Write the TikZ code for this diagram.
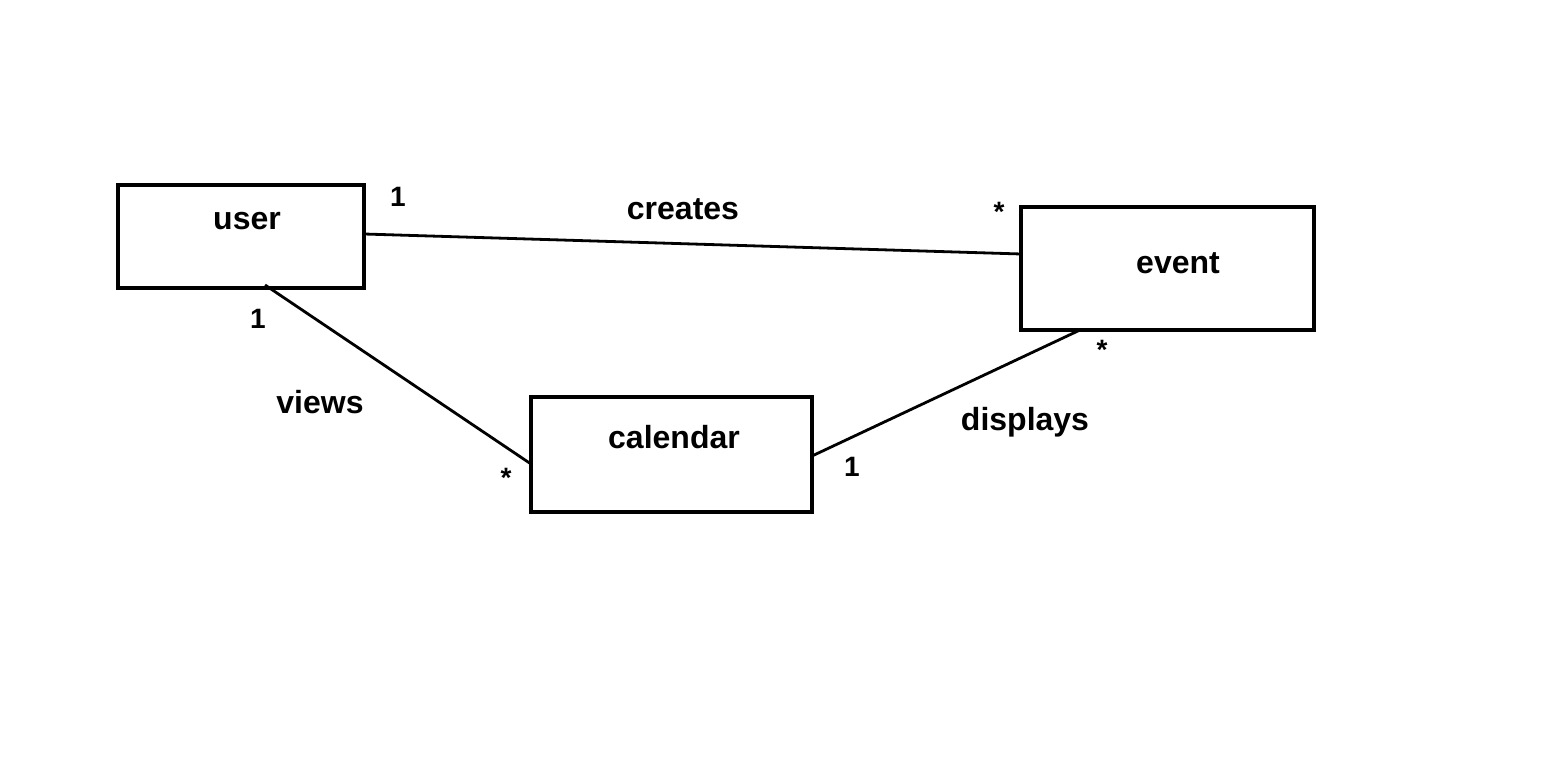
\documentclass[tikz,border=0pt]{standalone}
\usepackage{fontspec}
\setmainfont{Liberation Sans}
\begin{document}
\begin{tikzpicture}[x=0.5pt,y=-0.5pt,
  box/.style={draw,line width=1.7pt,inner sep=0pt},
  lbl/.style={font=\fontsize{16}{18}\selectfont\bfseries,inner sep=0pt},
  mult/.style={font=\fontsize{14}{16}\selectfont\bfseries,inner sep=0pt},
  conn/.style={line width=1.4pt}]
\useasboundingbox (0,0) rectangle (1554,758);
\node[box,minimum width=123pt,minimum height=51.5pt] (user) at (241,236.5) {};
\node[box,minimum width=146.5pt,minimum height=61.5pt] (event) at (1167.5,268.5) {};
\node[box,minimum width=140.5pt,minimum height=57.5pt] (calendar) at (671.5,454.5) {};
\node[lbl] (tuser) at (247,221) {user};
\node[lbl] (tevent) at (1178,263) {event};
\node[lbl] (tcal) at (674,437) {calendar};
\coordinate (uR) at (364,234);
\coordinate (eL) at (1021,254);
\coordinate (uB) at (265,285);
\coordinate (cL) at (531,464);
\coordinate (cR) at (812,456);
\coordinate (eB) at (1080,330);
\draw[conn] (uR) -- (eL);
\draw[conn] (uB) -- (cL);
\draw[conn] (cR) -- (eB);
\node[mult] (m1) at (398,197) {1};
\node[lbl] (lcreates) at (683,209) {creates};
\node[mult] (m2) at (999,212) {*};
\node[mult] (m3) at (258,319) {1};
\node[lbl] (lviews) at (320,402) {views};
\node[mult] (m4) at (506,478) {*};
\node[mult] (m5) at (1102,350) {*};
\node[lbl] (ldisp) at (1025,422) {displays};
\node[mult] (m6) at (852,467) {1};
\end{tikzpicture}
\end{document}
